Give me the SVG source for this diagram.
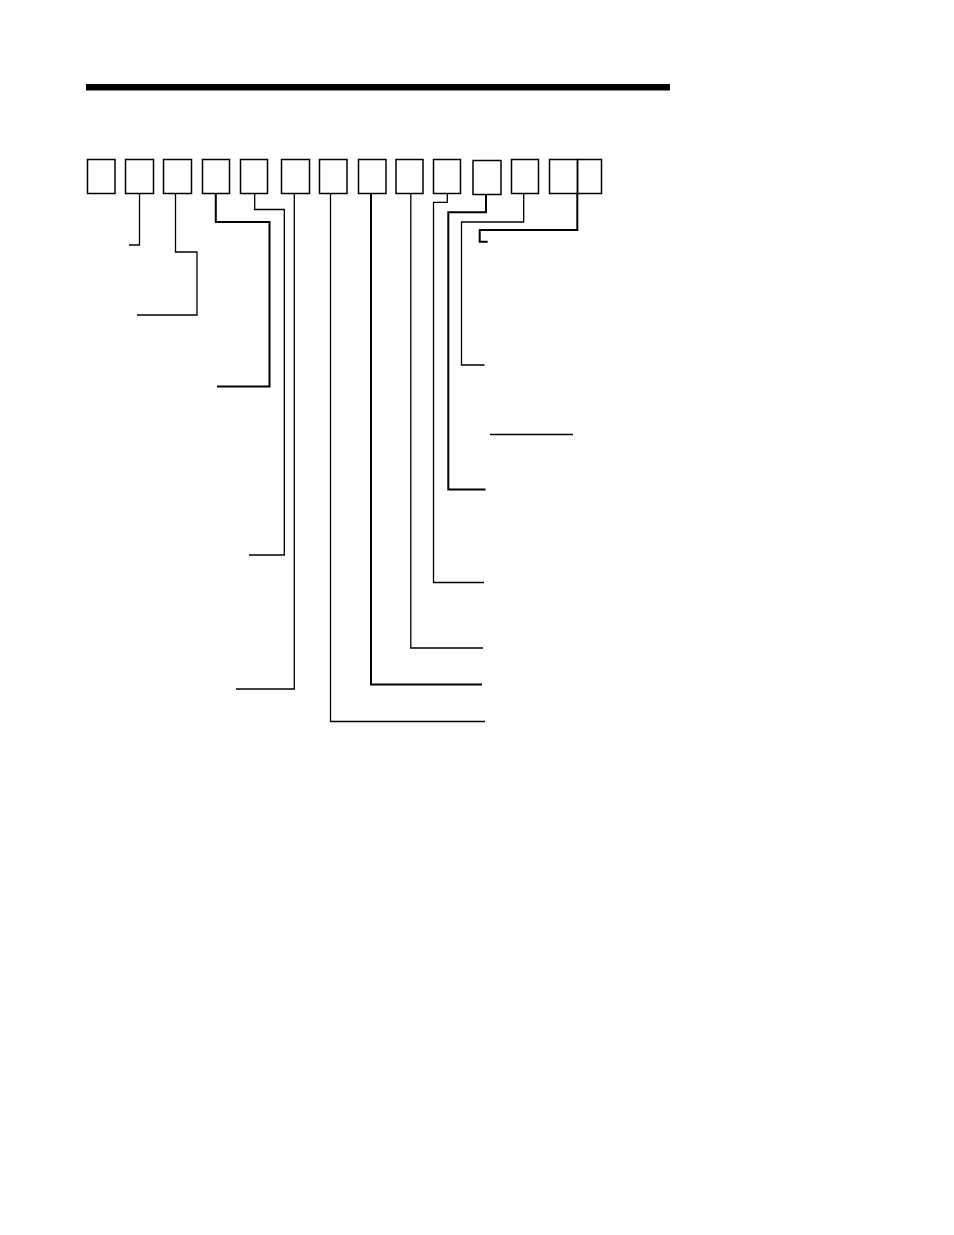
<svg xmlns="http://www.w3.org/2000/svg" width="954" height="1235" viewBox="0 0 954 1235">
<style>
.box{fill:none;stroke:#000;stroke-width:1.5}
.ln{fill:none;stroke:#000;stroke-width:1.3}
.hv{fill:none;stroke:#000;stroke-width:2}
</style>
<rect x="0" y="0" width="954" height="1235" fill="#fff"/>
<rect id="topbar" x="86" y="84" width="584" height="6.5" fill="#000"/>
<g id="nodes">
<rect id="n1" class="box" x="87.5" y="159.5" width="27.5" height="34"/>
<rect id="n2" class="box" x="125.5" y="159.5" width="28" height="34"/>
<rect id="n3" class="box" x="163.5" y="159.5" width="28" height="34"/>
<rect id="n4" class="box" x="202.5" y="159.5" width="27" height="34"/>
<rect id="n5" class="box" x="240.5" y="159.5" width="27" height="34"/>
<rect id="n6" class="box" x="281.5" y="159.5" width="28" height="34"/>
<rect id="n7" class="box" x="319.5" y="159.5" width="27.5" height="34"/>
<rect id="n8" class="box" x="358.5" y="159.5" width="27.5" height="34"/>
<rect id="n9" class="box" x="396" y="159.5" width="27" height="34"/>
<rect id="n10" class="box" x="433.5" y="159.5" width="27" height="34"/>
<rect id="n11" class="box" x="473" y="160.5" width="28" height="34"/>
<rect id="n12" class="box" x="511.5" y="159.5" width="27" height="34"/>
<rect id="n13" class="box" x="549.5" y="159.5" width="28" height="34"/>
<rect id="n14" class="box" x="577.5" y="159.5" width="24" height="34"/>
</g>
<g id="connectors">
<polyline class="ln" points="139.5,193.5 139.5,245 129,245"/>
<polyline class="ln" points="175.5,193.5 175.5,252 197,252 197,315 137,315"/>
<polyline class="hv" points="215.8,193.5 215.8,222 269.5,222 269.5,386.5 217,386.5"/>
<polyline class="ln" points="254.7,193.5 254.7,209.5 284.3,209.5 284.3,555 249,555"/>
<polyline class="ln" points="294.3,193.5 294.3,689 236,689"/>
<polyline class="ln" points="330.5,193.5 330.5,721.5 485,721.5"/>
<polyline class="hv" points="371,193.5 371,684.5 482,684.5"/>
<polyline class="ln" points="410.8,193.5 410.8,648 483,648"/>
<polyline class="ln" points="447.3,193.5 447.3,202.3 433.5,202.3 433.5,582.5 484,582.5"/>
<polyline class="hv" points="486,194.5 486,212.3 448.3,212.3 448.3,489.5 485.5,489.5"/>
<polyline class="ln" points="523.7,193.5 523.7,222 461.5,222 461.5,365 484.5,365"/>
<polyline class="hv" points="577.3,193.5 577.3,230 479.7,230 479.7,241.7 487.7,241.7"/>
<line class="ln" x1="490" y1="434.5" x2="573" y2="434.5"/>
</g>
</svg>
